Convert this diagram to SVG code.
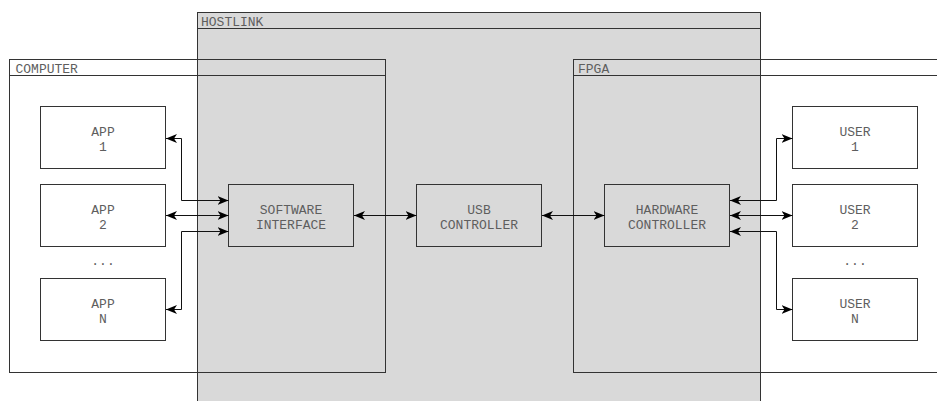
<svg xmlns="http://www.w3.org/2000/svg" width="937" height="401" viewBox="0 0 937 401">
  <style>
    .frame { fill: none; stroke: #333; stroke-width: 1; }
    .box { fill: #fff; stroke: #333; stroke-width: 1; }
    .gbox { fill: #d9d9d9; stroke: #333; stroke-width: 1; }
    .lbl { font-family: "Liberation Mono", "Courier New", monospace; font-size: 13px; fill: #5e5e5e; }
    .mid { text-anchor: middle; }
    .wire { fill: none; stroke: #111; stroke-width: 1; marker-start: url(#tip); marker-end: url(#tip); }
  </style>
  <defs>
    <marker id="tip" viewBox="0 0 11 9" markerUnits="userSpaceOnUse" markerWidth="11" markerHeight="9" refX="11" refY="4.5" orient="auto-start-reverse">
      <path d="M0,0 L11,4.5 L0,9 L3,4.5 Z" fill="#000"/>
    </marker>
  </defs>

  <rect width="937" height="401" fill="#fff"/>

  <!-- HOSTLINK container -->
  <g id="hostlink">
    <rect class="gbox" x="197.5" y="12.5" width="563" height="400"/>
    <line class="frame" x1="197.5" y1="28.5" x2="760.5" y2="28.5"/>
    <text class="lbl" x="201" y="25.5">HOSTLINK</text>
  </g>

  <!-- COMPUTER container -->
  <g id="computer">
    <rect class="frame" x="9.5" y="59.5" width="376" height="313"/>
    <line class="frame" x1="9.5" y1="75.5" x2="385.5" y2="75.5"/>
    <text class="lbl" x="15.5" y="72.5">COMPUTER</text>
  </g>

  <!-- FPGA container -->
  <g id="fpga">
    <rect class="frame" x="573.5" y="59.5" width="400" height="313"/>
    <line class="frame" x1="573.5" y1="75.5" x2="937" y2="75.5"/>
    <text class="lbl" x="578" y="72.5">FPGA</text>
  </g>

  <!-- applications -->
  <g id="app1">
    <rect class="box" x="40.5" y="106.5" width="125" height="62"/>
    <text class="lbl mid" x="103" y="135.5">APP</text>
    <text class="lbl mid" x="103" y="151">1</text>
  </g>
  <g id="app2">
    <rect class="box" x="40.5" y="184.5" width="125" height="62"/>
    <text class="lbl mid" x="103" y="213.5">APP</text>
    <text class="lbl mid" x="103" y="229">2</text>
  </g>
  <text class="lbl mid" x="103" y="265">...</text>
  <g id="appN">
    <rect class="box" x="40.5" y="278.5" width="125" height="62"/>
    <text class="lbl mid" x="103" y="307.5">APP</text>
    <text class="lbl mid" x="103" y="323">N</text>
  </g>

  <!-- hostlink blocks -->
  <g id="software-interface">
    <rect class="gbox" x="228.5" y="184.5" width="125" height="62"/>
    <text class="lbl mid" x="291" y="213.5">SOFTWARE</text>
    <text class="lbl mid" x="291" y="229">INTERFACE</text>
  </g>
  <g id="usb-controller">
    <rect class="gbox" x="416.5" y="184.5" width="125" height="62"/>
    <text class="lbl mid" x="479" y="213.5">USB</text>
    <text class="lbl mid" x="479" y="229">CONTROLLER</text>
  </g>
  <g id="hardware-controller">
    <rect class="gbox" x="604.5" y="184.5" width="125" height="62"/>
    <text class="lbl mid" x="667" y="213.5">HARDWARE</text>
    <text class="lbl mid" x="667" y="229">CONTROLLER</text>
  </g>

  <!-- user logic -->
  <g id="user1">
    <rect class="box" x="792.5" y="106.5" width="125" height="62"/>
    <text class="lbl mid" x="855" y="135.5">USER</text>
    <text class="lbl mid" x="855" y="151">1</text>
  </g>
  <g id="user2">
    <rect class="box" x="792.5" y="184.5" width="125" height="62"/>
    <text class="lbl mid" x="855" y="213.5">USER</text>
    <text class="lbl mid" x="855" y="229">2</text>
  </g>
  <text class="lbl mid" x="855" y="265">...</text>
  <g id="userN">
    <rect class="box" x="792.5" y="278.5" width="125" height="62"/>
    <text class="lbl mid" x="855" y="307.5">USER</text>
    <text class="lbl mid" x="855" y="323">N</text>
  </g>

  <!-- connectors -->
  <g id="connectors">
    <path class="wire" d="M166,138.5 H181.5 V200.5 H228.5"/>
    <path class="wire" d="M166,215.5 H228.5"/>
    <path class="wire" d="M166,309.5 H181.5 V231.5 H228.5"/>
    <path class="wire" d="M354,215.5 H416.5"/>
    <path class="wire" d="M542,215.5 H604.5"/>
    <path class="wire" d="M730,200.5 H776.5 V138.5 H792.5"/>
    <path class="wire" d="M730,215.5 H792.5"/>
    <path class="wire" d="M730,231.5 H776.5 V309.5 H792.5"/>
  </g>
</svg>
